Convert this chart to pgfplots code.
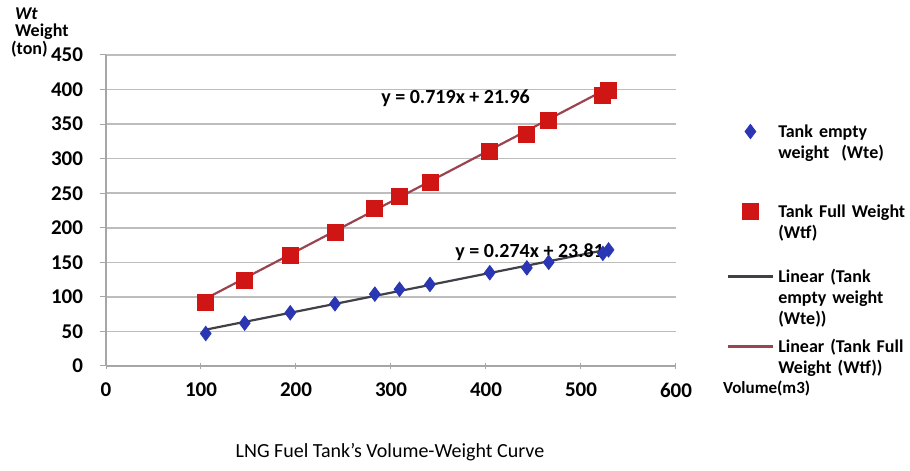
\documentclass[border=0pt]{standalone}
\usepackage{pgfplots}
\pgfplotsset{compat=1.18}
\usepackage{fontspec}
\setmainfont{Carlito}
\definecolor{mkblue}{HTML}{2A36B4}
\definecolor{mkred}{HTML}{D01515}
\definecolor{trgray}{HTML}{404048}
\definecolor{trred}{HTML}{9A4450}
\definecolor{gridc}{HTML}{BDBDBD}
\begin{document}
\begin{tikzpicture}
\path[use as bounding box] (-53pt,-52.5pt) rectangle (402pt,183pt);
\begin{axis}[
  scale only axis,
  width=285pt, height=155.5pt,
  xmin=0, xmax=600, ymin=0, ymax=450,
  xtick={0,100,...,600}, ytick={0,50,...,450},
  axis x line=bottom, axis y line=left,
  axis line style={draw=gray!70, line width=0.6pt, -},
  x axis line style={-}, y axis line style={-},
  xtick align=center, ytick align=outside,
  major tick length=3pt,
  tick style={draw=gray!70, line width=0.5pt},
  ymajorgrids,
  major grid style={draw=gridc, line width=0.8pt},
  tick label style={font=\fontsize{10.5}{12}\selectfont\bfseries},
  /pgf/number format/assume math mode=true,
  yticklabel style={xshift=-5pt},
  xticklabel style={yshift=-3.5pt},
  clip=false,
  legend style={at={(1.088,0.781)}, anchor=north west, draw=none, fill=none,
    inner sep=0pt, row sep=0pt, column sep=2pt,
    nodes={font=\fontsize{9}{10.5}\selectfont\bfseries, text width=74pt, align=left,
      inner sep=0pt, anchor=base west, text height=7pt}},
  legend image code/.code={\draw[mark repeat=2,mark phase=2,yshift=3pt,#1] plot coordinates {(0cm,0cm) (0.4cm,0cm) (0.8cm,0cm)};},
]
\addplot[only marks, mark=diamond*, mark size=3.6pt, mark options={fill=mkblue, draw=mkblue}]
  coordinates {(105,47) (146,62) (194,77) (241,90) (283,104) (309,111) (341,118) (404,135) (443,142) (466,150) (523,163) (529,168)};
\addlegendentry[text depth=33pt]{Tank empty\\weight~ (Wte)}
\addplot[only marks, mark=square*, mark size=4pt, mark options={fill=mkred, draw=mkred}]
  coordinates {(105,92) (146,124) (194,160) (241,194) (283,228) (309,246) (341,265) (404,310) (443,335) (466,355) (523,392) (529,399)};
\addlegendentry[text depth=25.5pt]{Tank Full Weight\\(Wtf)}
\addplot[draw=trgray, line width=1.1pt] coordinates {(105,52.6) (529,168.8)};
\addlegendentry[text depth=28pt]{Linear (Tank\\empty weight\\(Wte))}
\addplot[draw=trred, line width=1.1pt] coordinates {(105,97.5) (529,402.3)};
\addlegendentry[text depth=13pt]{Linear (Tank Full\\Weight (Wtf))}
\node[font=\fontsize{10}{12}\selectfont\bfseries] at (axis cs:368,388) {y = 0.719x + 21.96};
\node[font=\fontsize{10}{12}\selectfont\bfseries] at (axis cs:446,164) {y = 0.274x + 23.81};
\end{axis}
\node[anchor=west, font=\fontsize{8.5}{10}\selectfont\bfseries] at (305pt,-11pt) {Volume(m3)};
\node[font=\fontsize{10}{12}\selectfont] at (142pt,-43pt) {LNG Fuel Tank's Volume-Weight Curve};
\node[anchor=west, font=\fontsize{9}{10}\selectfont\bfseries\itshape] at (-49pt,176pt) {Wt};
\node[anchor=west, font=\fontsize{9}{10}\selectfont\bfseries] at (-49pt,167pt) {Weight};
\node[anchor=west, font=\fontsize{9}{10}\selectfont\bfseries] at (-51pt,158.5pt) {(ton)};
\end{tikzpicture}
\end{document}
